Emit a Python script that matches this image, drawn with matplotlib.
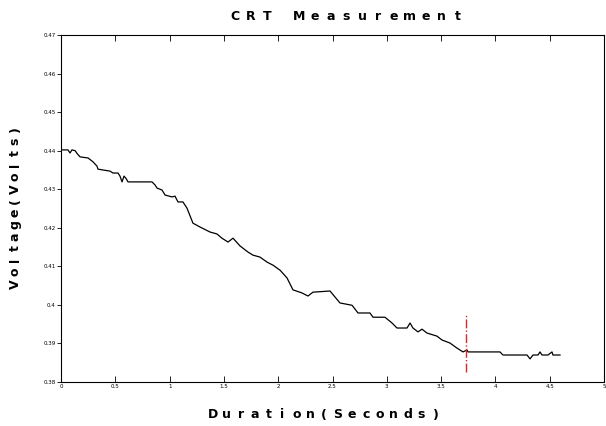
import matplotlib
matplotlib.use("Agg")
import matplotlib.pyplot as plt

# Measured trace (time in seconds, voltage in volts)
time_s = [0.000, 0.064, 0.083, 0.101, 0.130, 0.150, 0.175, 0.249, 0.295, 0.331, 0.341,
          0.451, 0.479, 0.525, 0.543, 0.562, 0.580, 0.599, 0.617, 0.838, 0.866, 0.884,
          0.930, 0.958, 1.022, 1.050, 1.077, 1.123, 1.160, 1.215, 1.280, 1.372, 1.436,
          1.482, 1.538, 1.584, 1.648, 1.722, 1.768, 1.832, 1.897, 1.952, 2.017, 2.081,
          2.127, 2.136, 2.219, 2.274, 2.320, 2.477, 2.569, 2.680, 2.735, 2.845, 2.873,
          2.983, 3.048, 3.094, 3.186, 3.214, 3.241, 3.287, 3.324, 3.370, 3.462, 3.508,
          3.582, 3.646, 3.702, 3.738, 3.748, 4.042, 4.070, 4.291, 4.319, 4.346, 4.392,
          4.411, 4.429, 4.484, 4.521, 4.530, 4.595]
volts = [0.4402, 0.4402, 0.4394, 0.4402, 0.4400, 0.4392, 0.4384, 0.4381, 0.4371, 0.4360, 0.4352,
         0.4347, 0.4342, 0.4342, 0.4334, 0.4319, 0.4334, 0.4328, 0.4319, 0.4319, 0.4311, 0.4303,
         0.4298, 0.4285, 0.4280, 0.4282, 0.4267, 0.4267, 0.4251, 0.4212, 0.4202, 0.4189, 0.4184,
         0.4173, 0.4163, 0.4173, 0.4153, 0.4137, 0.4129, 0.4124, 0.4111, 0.4103, 0.4090, 0.4070,
         0.4044, 0.4039, 0.4031, 0.4023, 0.4033, 0.4036, 0.4005, 0.3999, 0.3979, 0.3979, 0.3968,
         0.3968, 0.3953, 0.3940, 0.3940, 0.3953, 0.3940, 0.3930, 0.3937, 0.3927, 0.3919, 0.3909,
         0.3901, 0.3888, 0.3878, 0.3883, 0.3878, 0.3878, 0.3870, 0.3870, 0.3860, 0.3870, 0.3870,
         0.3878, 0.3870, 0.3870, 0.3878, 0.3870, 0.3870]

marker_t = 3.73
marker_v = [0.3826, 0.3974]

x_ticks = [0, 0.5, 1, 1.5, 2, 2.5, 3, 3.5, 4, 4.5, 5]
x_labels = ["0", "0.5", "1", "1.5", "2", "2.5", "3", "3.5", "4", "4.5", "5"]
y_ticks = [0.38, 0.39, 0.40, 0.41, 0.42, 0.43, 0.44, 0.45, 0.46, 0.47]
y_labels = ["0.38", "0.39", "0.4", "0.41", "0.42", "0.43", "0.44", "0.45", "0.46", "0.47"]

title = "CRT Measurement"
xlabel = "Duration(Seconds)"
ylabel = "Voltage(Volts)"

W, H = 606, 426
fig = plt.figure(figsize=(W / 100, H / 100), dpi=100)
ax = fig.add_axes([61/W, 1-382/H, 543/W, 347/H])

ax.plot(time_s, volts, color="black", linewidth=0.9)
ax.plot([marker_t, marker_t], marker_v, color="#d62828", linewidth=1.0, linestyle="-.")

ax.set_xlim(0, 5)
ax.set_ylim(0.38, 0.47)
ax.set_xticks(x_ticks)
ax.set_xticklabels(x_labels)
ax.set_yticks(y_ticks)
ax.set_yticklabels(y_labels)
ax.tick_params(axis="x", direction="in", top=True, labelsize=4, length=4, pad=1.5, width=0.6)
ax.tick_params(axis="y", direction="out", labelsize=4, length=3, pad=1, width=0.6)
for s in ax.spines.values():
    s.set_linewidth(0.8)


def spaced_text(s, start, fixed, pitch, vertical=False, size=9):
    # place characters at a fixed pitch (letter-spaced label), pixel coordinates
    pos = start
    for ch in s:
        if ch != " ":
            if vertical:
                fig.text(fixed / W, 1 - pos / H, ch, ha="center", va="center",
                         fontsize=size, fontweight="bold", rotation=90)
            else:
                fig.text(pos / W, 1 - fixed / H, ch, ha="center", va="center",
                         fontsize=size, fontweight="bold")
        pos += pitch


spaced_text(title, 235, 16, 15.9)
spaced_text(xlabel, 213, 415, 13.9)
spaced_text(ylabel, 284, 15, -11.9, vertical=True)

fig.savefig("out.png", dpi=100)
